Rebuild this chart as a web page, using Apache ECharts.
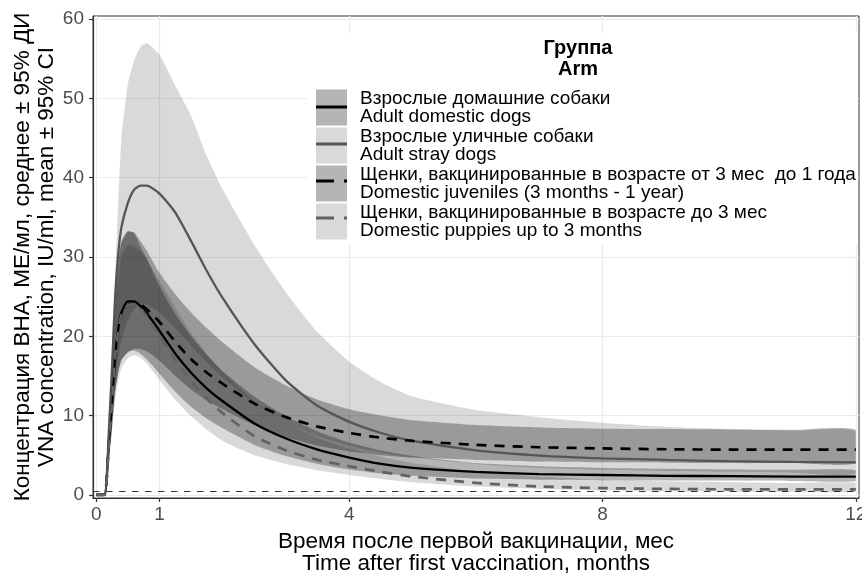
<!DOCTYPE html>
<html>
<head>
<meta charset="utf-8">
<script src="https://cdn.jsdelivr.net/npm/echarts@6/dist/echarts.min.js"></script>
<style>
  html, body { margin: 0; padding: 0; background: #ffffff; }
  #chart { width: 862px; height: 573px; }
</style>
</head>
<body>
<div id="chart"></div>
<script>
// Time after first vaccination, months
const months = [0, 0.13, 0.2, 0.25, 0.3, 0.35, 0.4, 0.5, 0.6, 0.7, 0.8, 1.0, 1.25, 1.5, 1.75, 2.0, 2.5, 3.0, 3.5, 4.0, 4.5, 5, 6, 7, 8, 9, 10, 11, 12];

// Adult domestic dogs: mean and 95% CI
const domesticMean = [0, 0, 6.5, 11.5, 17.5, 21, 23, 24.4, 24.4, 23.8, 22.9, 20.7, 17.8, 15.4, 13.4, 11.8, 9.0, 7.1, 5.7, 4.7, 3.9, 3.4, 2.9, 2.6, 2.5, 2.4, 2.35, 2.3, 2.3];
const domesticLow  = [0, 0, 4.5, 8.5, 13, 15.5, 17, 18, 18.2, 17.8, 17.1, 15.3, 13.0, 11.1, 9.6, 8.4, 6.3, 4.9, 3.9, 3.2, 2.7, 2.4, 2.05, 1.9, 1.85, 1.8, 1.8, 1.75, 1.75];
const domesticHigh = [0, 0, 9, 17, 24.5, 29.5, 32, 33.3, 33.0, 31.3, 29.8, 26.3, 22.8, 20.0, 17.6, 15.6, 12.4, 9.9, 8.0, 6.6, 5.6, 4.9, 4.0, 3.6, 3.4, 3.3, 3.2, 3.15, 3.1];

// Adult stray dogs
const strayMean = [0, 0, 8, 16, 25, 30.5, 33.8, 36.8, 38.5, 39.0, 39.0, 38.0, 35.6, 32.0, 28.2, 24.8, 19.0, 14.4, 11.2, 9.2, 7.8, 6.8, 5.6, 4.95, 4.6, 4.4, 4.25, 4.15, 4.1];
const strayLow  = [0, 0, 5, 10, 14, 17, 19.5, 22, 23.5, 24, 24, 23.0, 21.0, 18.8, 16.7, 14.8, 11.6, 9.1, 7.4, 6.2, 5.3, 4.7, 3.9, 3.4, 3.15, 3.0, 2.9, 2.8, 2.75];
const strayHigh = [0, 0, 10, 19, 28, 37, 45, 51.8, 54.8, 56.5, 57.0, 55.5, 51.6, 47.8, 42.7, 38.5, 31.5, 25.5, 20.5, 16.8, 14.2, 12.4, 10.7, 9.8, 9.1, 8.6, 8.3, 8.1, 8.0];

// Domestic juveniles (3 months - 1 year)
const juvenileMean = [0, 0, 6.5, 11.5, 17.5, 20.8, 22.7, 23.9, 24.2, 24.0, 23.4, 21.8, 19.3, 17.1, 15.4, 14.0, 11.5, 9.8, 8.6, 7.8, 7.2, 6.8, 6.3, 6.0, 5.85, 5.75, 5.7, 5.7, 5.7];
const juvenileLow  = [0, 0, 4.5, 8.5, 13, 15.5, 17, 18, 18.4, 18.4, 18.1, 16.9, 15.0, 13.3, 11.9, 10.8, 8.8, 7.3, 6.2, 5.5, 5.0, 4.7, 4.4, 4.2, 4.1, 4.05, 4.0, 4.0, 4.0];
const juvenileHigh = [0, 0, 9, 17, 24.5, 29.2, 31.8, 33.2, 33.1, 32.0, 30.8, 28.0, 25.3, 23.0, 21.0, 19.2, 16.1, 13.8, 12.0, 10.8, 10.0, 9.4, 8.8, 8.5, 8.35, 8.3, 8.25, 8.2, 8.2];

// Domestic puppies up to 3 months
const puppyMean = [0, 0, 6.5, 11.5, 17.5, 20.8, 22.7, 23.9, 24.1, 23.5, 22.5, 20.1, 17.0, 14.3, 12.1, 10.3, 7.4, 5.6, 4.4, 3.6, 2.9, 2.3, 1.5, 1.05, 0.85, 0.75, 0.7, 0.7, 0.7];
const puppyLow  = [0, 0, 4, 8, 12, 14.5, 16, 17.2, 17.6, 17.3, 16.6, 14.5, 12.0, 9.9, 8.2, 6.8, 5.0, 3.9, 3.1, 2.5, 2.0, 1.6, 1.05, 0.75, 0.55, 0.45, 0.4, 0.4, 0.4];
const puppyHigh = [0, 0, 9, 16.5, 23.5, 27.5, 30, 31.5, 31.4, 30.7, 29.7, 27.0, 23.6, 20.4, 17.8, 15.5, 11.8, 9.1, 7.2, 5.8, 4.8, 4.0, 2.9, 2.3, 1.9, 1.7, 1.6, 1.5, 1.5];

// Axis breaks and the protective threshold line
const xTicks = [0, 1, 4, 8, 12];
const yTicks = [0, 10, 20, 30, 40, 50, 60];
const protectiveLevel = 0.5;

const groupLabels = [
  'Взрослые домашние собаки\nAdult domestic dogs',
  'Взрослые уличные собаки\nAdult stray dogs',
  'Щенки, вакцинированные в возрасте от 3 мес  до 1 года\nDomestic juveniles (3 months - 1 year)',
  'Щенки, вакцинированные в возрасте до 3 мес\nDomestic puppies up to 3 months'
];

const FONT = '"Liberation Sans", Arial, Helvetica, sans-serif';

const groups = [
  { id: 'domestic', mean: domesticMean, low: domesticLow, high: domesticHigh,
    fill: 'rgba(0,0,0,0.29)', line: '#000000', width: 2.3, dash: 'solid', keyDash: null },
  { id: 'stray', mean: strayMean, low: strayLow, high: strayHigh,
    fill: 'rgba(0,0,0,0.15)', line: '#555555', width: 2.3, dash: 'solid', keyDash: null },
  { id: 'juvenile', mean: juvenileMean, low: juvenileLow, high: juvenileHigh,
    fill: 'rgba(0,0,0,0.29)', line: '#000000', width: 2.7, dash: [10, 8], keyDash: [18, 10] },
  { id: 'puppy', mean: puppyMean, low: puppyLow, high: puppyHigh,
    fill: 'rgba(0,0,0,0.15)', line: '#626262', width: 2.7, dash: [10, 8], keyDash: [18, 10] }
];
groups.forEach((g, i) => { g.label = groupLabels[i]; });

const pairs = vals => months.map((t, i) => [t, vals[i]]);

const series = [];

// Confidence ribbons: one filled polygon per group, upper edge forward, lower edge back
groups.forEach(g => {
  const rows = months.map((t, i) => [t, g.low[i], g.high[i]]);
  series.push({
    name: g.id + '-ci', type: 'custom', data: rows, z: 2, silent: true,
    encode: { x: 0, y: [1, 2] },
    itemStyle: { color: g.fill },
    renderItem: (params, api) => {
      if (params.dataIndex !== 0) return null;
      const upper = rows.map(r => api.coord([r[0], r[2]]));
      const lower = rows.map(r => api.coord([r[0], r[1]])).reverse();
      const pts = upper.concat(lower);
      return {
        type: 'polygon',
        shape: { points: pts, smooth: 0.2, smoothConstraint: [pts[0], pts[0]] },
        style: { fill: g.fill, stroke: null }
      };
    }
  });
});

// Mean curves
groups.forEach((g, i) => {
  const s = {
    name: g.id + '-mean', type: 'line', data: pairs(g.mean),
    smooth: 0.2, symbol: 'none', silent: true, z: 3,
    color: g.line,
    lineStyle: { color: g.line, width: g.width, type: g.dash, cap: 'butt' },
    itemStyle: { color: g.line }
  };
  if (i === groups.length - 1) {
    s.markLine = {
      silent: true, symbol: ['none', 'none'], animation: false,
      label: { show: false },
      lineStyle: { color: '#333333', width: 1, type: [6.5, 6.5] },
      data: [{ yAxis: protectiveLevel }]
    };
  }
  series.push(s);
});

const labelById = {};
groups.forEach(g => { labelById[g.id + '-ci'] = g.label; });

// Legend geometry (keys are 31x36, one item every 37 px)
const LEG_LEFT = 316, LEG_TOP = 89, KEY_W = 31, KEY_H = 36, KEY_GAP = 1;

const keyLines = groups.map((g, i) => {
  const y = LEG_TOP + KEY_H / 2 + i * (KEY_H + KEY_GAP);
  return {
    type: 'line', z: 6, silent: true,
    shape: { x1: LEG_LEFT, y1: y, x2: LEG_LEFT + KEY_W, y2: y },
    style: { stroke: g.line, lineWidth: 3, lineDash: g.keyDash }
  };
});

const chart = echarts.init(document.getElementById('chart'), null, { renderer: 'canvas' });

chart.setOption({
  animation: false,
  backgroundColor: '#ffffff',
  textStyle: { fontFamily: FONT },
  grid: {
    left: 93, right: 3, top: 16, bottom: 75,
    containLabel: false, outerBoundsMode: 'none',
    show: true, borderColor: '#333333', borderWidth: 1, backgroundColor: 'transparent'
  },
  xAxis: {
    type: 'value', min: -0.05, max: 12.05,
    name: 'Время после первой вакцинации, мес\nTime after first vaccination, months',
    nameLocation: 'middle', nameGap: 33,
    nameTextStyle: { fontFamily: FONT, fontSize: 22.5, lineHeight: 22, color: '#000000' },
    axisLine: { show: true, onZero: false, lineStyle: { color: '#333333', width: 1.2 } },
    axisTick: { show: true, length: 4, customValues: xTicks, lineStyle: { color: '#333333', width: 1.2 } },
    axisLabel: { customValues: xTicks, fontFamily: FONT, fontSize: 19, color: '#4d4d4d', margin: 7 },
    splitLine: { show: true, lineStyle: { color: '#ebebeb', width: 1.2 } }
  },
  yAxis: {
    type: 'value', min: -0.4, max: 60.4,
    name: 'Концентрация ВНА, МЕ/мл, среднее ± 95% ДИ\nVNA concentration, IU/ml, mean ± 95% CI',
    nameLocation: 'middle', nameGap: 34, nameRotate: 90, nameMoveOverlap: false,
    nameTextStyle: { fontFamily: FONT, fontSize: 22.5, lineHeight: 24, color: '#000000' },
    axisLine: { show: true, onZero: false, lineStyle: { color: '#333333', width: 1.2 } },
    axisTick: { show: true, length: 4, customValues: yTicks, lineStyle: { color: '#333333', width: 1.2 } },
    axisLabel: { customValues: yTicks, fontFamily: FONT, fontSize: 19, color: '#4d4d4d', margin: 9 },
    splitLine: { show: true, lineStyle: { color: '#ebebeb', width: 1.2 } }
  },
  legend: {
    orient: 'vertical', left: LEG_LEFT, top: LEG_TOP, padding: 0, itemGap: KEY_GAP,
    itemWidth: KEY_W, itemHeight: KEY_H, icon: 'rect', selectedMode: false, z: 4,
    data: groups.map(g => g.id + '-ci'),
    formatter: name => labelById[name],
    itemStyle: { borderWidth: 0 },
    textStyle: { fontFamily: FONT, fontSize: 19, lineHeight: 18, color: '#000000', padding: [0, 0, 0, 8] }
  },
  graphic: [
    {
      type: 'rect', z: 3, silent: true,
      shape: { x: 307, y: 33, width: 550, height: 212 },
      style: { fill: '#ffffff' }
    },
    {
      type: 'text', z: 5, silent: true, x: 578, y: 38,
      style: {
        text: 'Группа\nArm', align: 'center', verticalAlign: 'top',
        font: 'bold 20px ' + FONT, lineHeight: 21, fill: '#000000'
      }
    }
  ].concat(keyLines),
  series: series
});
</script>
</body>
</html>
